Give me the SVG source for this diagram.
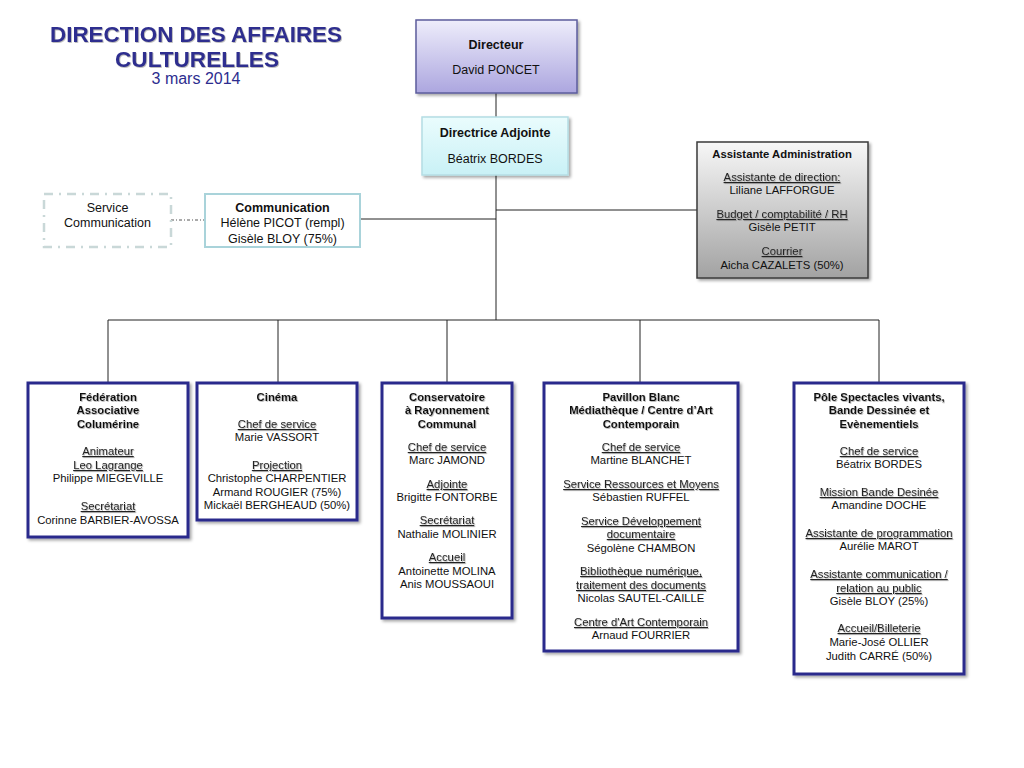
<svg xmlns="http://www.w3.org/2000/svg" width="1024" height="768" viewBox="0 0 1024 768">
<defs>
<linearGradient id="gDir" x1="0" y1="0" x2="0" y2="1"><stop offset="0" stop-color="#eeedfb"/><stop offset="1" stop-color="#aca6df"/></linearGradient>
<linearGradient id="gAdj" x1="0" y1="0" x2="0" y2="1"><stop offset="0" stop-color="#eafcfd"/><stop offset="1" stop-color="#c9f1f6"/></linearGradient>
<linearGradient id="gAss" x1="0" y1="0" x2="0" y2="1"><stop offset="0" stop-color="#f7f7f7"/><stop offset="1" stop-color="#a2a2a2"/></linearGradient>
<filter id="sh" x="-10%" y="-10%" width="130%" height="130%"><feDropShadow dx="2" dy="2" stdDeviation="1.5" flood-color="#000" flood-opacity="0.35"/></filter>
<filter id="ts" x="-5%" y="-20%" width="110%" height="150%"><feDropShadow dx="0.8" dy="0.8" stdDeviation="0.4" flood-color="#777" flood-opacity="0.6"/></filter>
</defs>
<style>
text{font-family:"Liberation Sans",Arial,sans-serif;text-anchor:middle;fill:#111}
.s{font-size:11.3px}
.m{font-size:12.5px}
.b{font-weight:bold}
.u{text-decoration:underline;fill:#222}
.hb{filter:url(#ts)}
.box{fill:#fff;stroke:#2b2b8c;stroke-width:3;filter:url(#sh)}
.ln{fill:none;stroke:#222;stroke-width:1}
</style>
<rect width="1024" height="768" fill="#fff"/>
<g id="title">
<text x="196" y="42" font-size="22" font-weight="bold" fill="#2d2d8f" style="fill:#2d2d8f;filter:url(#ts)" textLength="292" lengthAdjust="spacingAndGlyphs">DIRECTION DES AFFAIRES</text>
<text x="197" y="67" font-size="22" font-weight="bold" style="fill:#2d2d8f;filter:url(#ts)" textLength="164" lengthAdjust="spacingAndGlyphs">CULTURELLES</text>
<text x="196" y="84" font-size="16" style="fill:#2d2d8f">3 mars 2014</text>
</g>
<g id="connectors">
<path class="ln" d="M496 93V117M496 175V320M496 210H697M360 219H496M108 320H879M108 320V383M278 320V383M447 320V383M640 320V383M879 320V383"/>
<path d="M171 220H205" fill="none" stroke="#555" stroke-width="1" stroke-dasharray="3 2 1 2"/>
</g>
<g id="directeur">
<rect x="416" y="20" width="161" height="73" fill="url(#gDir)" stroke="#5c5c9c" stroke-width="1.5" filter="url(#sh)"/>
<text class="m b" x="496" y="49">Directeur</text>
<text class="m" x="496" y="74">David PONCET</text>
</g>
<g id="adjointe">
<rect x="422" y="117" width="146" height="58" fill="url(#gAdj)" stroke="#b4dde4" stroke-width="1.5" filter="url(#sh)"/>
<text class="m b" x="495" y="137">Directrice Adjointe</text>
<text class="m" x="495" y="163">Béatrix BORDES</text>
</g>
<g id="assistante">
<rect x="697" y="142" width="171" height="136" fill="url(#gAss)" stroke="#3a3a3a" stroke-width="1.5" filter="url(#sh)"/>
<text class="s b" x="782" y="158">Assistante Administration</text>
<text class="s u hb" x="782" y="181">Assistante de direction:</text>
<text class="s" x="782" y="194">Liliane LAFFORGUE</text>
<text class="s u hb" x="782" y="218">Budget / comptabilité / RH</text>
<text class="s" x="782" y="231">Gisèle PETIT</text>
<text class="s u hb" x="782" y="255">Courrier</text>
<text class="s" x="782" y="269">Aicha CAZALETS (50%)</text>
</g>
<g id="service-communication">
<rect x="44" y="194" width="127" height="53" fill="#fff" stroke="#c9d8d8" stroke-width="2.5" stroke-dasharray="9 6 2 6"/>
<text class="m" x="107.5" y="212">Service</text>
<text class="m" x="107.5" y="227">Communication</text>
</g>
<g id="communication">
<rect x="205" y="194" width="155" height="53" fill="#fff" stroke="#a9d3da" stroke-width="2"/>
<text class="m b" x="282.5" y="212">Communication</text>
<text class="m" x="282.5" y="227">Hélène PICOT (rempl)</text>
<text class="m" x="282.5" y="243">Gisèle BLOY (75%)</text>
</g>
<g id="federation">
<rect class="box" x="28" y="383" width="160" height="154"/>
<text class="s b hb" x="108" y="401">Fédération</text>
<text class="s b hb" x="108" y="414">Associative</text>
<text class="s b hb" x="108" y="428">Columérine</text>
<text class="s u hb" x="108" y="455">Animateur</text>
<text class="s u hb" x="108" y="469">Leo Lagrange</text>
<text class="s" x="108" y="482">Philippe MIEGEVILLE</text>
<text class="s u hb" x="108" y="510">Secrétariat</text>
<text class="s" x="108" y="524">Corinne BARBIER-AVOSSA</text>
</g>
<g id="cinema">
<rect class="box" x="197" y="383" width="160" height="137"/>
<text class="s b hb" x="277" y="401">Cinéma</text>
<text class="s u hb" x="277" y="428">Chef de service</text>
<text class="s" x="277" y="441">Marie VASSORT</text>
<text class="s u hb" x="277" y="469">Projection</text>
<text class="s" x="277" y="482">Christophe CHARPENTIER</text>
<text class="s" x="277" y="496">Armand ROUGIER (75%)</text>
<text class="s" x="277" y="509">Mickaël BERGHEAUD (50%)</text>
</g>
<g id="conservatoire">
<rect class="box" x="382" y="383" width="130" height="235"/>
<text class="s b hb" x="447" y="401">Conservatoire</text>
<text class="s b hb" x="447" y="414">à Rayonnement</text>
<text class="s b hb" x="447" y="428">Communal</text>
<text class="s u hb" x="447" y="451">Chef de service</text>
<text class="s" x="447" y="464">Marc JAMOND</text>
<text class="s u hb" x="447" y="488">Adjointe</text>
<text class="s" x="447" y="501">Brigitte FONTORBE</text>
<text class="s u hb" x="447" y="524">Secrétariat</text>
<text class="s" x="447" y="538">Nathalie MOLINIER</text>
<text class="s u hb" x="447" y="561">Accueil</text>
<text class="s" x="447" y="575">Antoinette MOLINA</text>
<text class="s" x="447" y="588">Anis MOUSSAOUI</text>
</g>
<g id="pavillon-blanc">
<rect class="box" x="544" y="383" width="194" height="268"/>
<text class="s b hb" x="641" y="401">Pavillon Blanc</text>
<text class="s b hb" x="641" y="414">Médiathèque / Centre d’Art</text>
<text class="s b hb" x="641" y="428">Contemporain</text>
<text class="s u hb" x="641" y="451">Chef de service</text>
<text class="s" x="641" y="464">Martine BLANCHET</text>
<text class="s u hb" x="641" y="488">Service Ressources et Moyens</text>
<text class="s" x="641" y="501">Sébastien RUFFEL</text>
<text class="s u hb" x="641" y="525">Service Développement</text>
<text class="s u hb" x="641" y="538">documentaire</text>
<text class="s" x="641" y="552">Ségolène CHAMBON</text>
<text class="s u hb" x="641" y="575">Bibliothèque numérique,</text>
<text class="s u hb" x="641" y="589">traitement des documents</text>
<text class="s" x="641" y="602">Nicolas SAUTEL-CAILLE</text>
<text class="s u hb" x="641" y="626">Centre d'Art Contemporain</text>
<text class="s" x="641" y="639">Arnaud FOURRIER</text>
</g>
<g id="pole-spectacles">
<rect class="box" x="794" y="383" width="170" height="291"/>
<text class="s b hb" x="879" y="401">Pôle Spectacles vivants,</text>
<text class="s b hb" x="879" y="414">Bande Dessinée et</text>
<text class="s b hb" x="879" y="428">Evènementiels</text>
<text class="s u hb" x="879" y="455">Chef de service</text>
<text class="s" x="879" y="468">Béatrix BORDES</text>
<text class="s u hb" x="879" y="496">Mission Bande Desinée</text>
<text class="s" x="879" y="509">Amandine DOCHE</text>
<text class="s u hb" x="879" y="537">Assistante de programmation</text>
<text class="s" x="879" y="550">Aurélie MAROT</text>
<text class="s u hb" x="879" y="578">Assistante communication /</text>
<text class="s u hb" x="879" y="592">relation au public</text>
<text class="s" x="879" y="605">Gisèle BLOY (25%)</text>
<text class="s u hb" x="879" y="632">Accueil/Billeterie</text>
<text class="s" x="879" y="646">Marie-José OLLIER</text>
<text class="s" x="879" y="660">Judith CARRÉ (50%)</text>
</g>
</svg>
